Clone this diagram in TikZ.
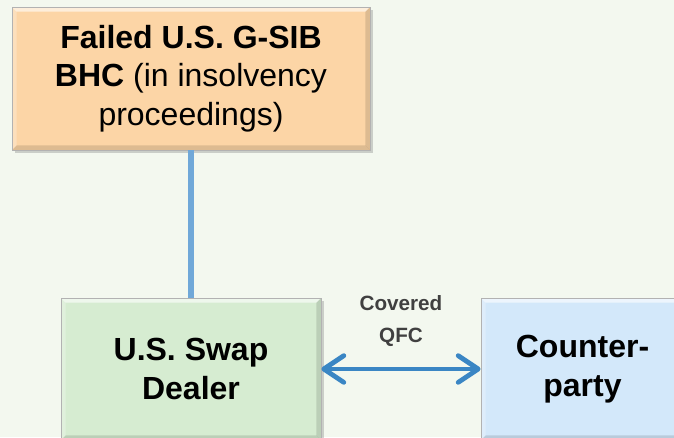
\documentclass[tikz,border=0pt]{standalone}
\usepackage{fontspec}
\setmainfont{Liberation Sans}
\usetikzlibrary{arrows.meta,shadows}
\definecolor{bgcol}{HTML}{F3F8EF}
\definecolor{bhcfill}{HTML}{FCD5A6}
\definecolor{dealerfill}{HTML}{D6ECD1}
\definecolor{partyfill}{HTML}{D3E8FA}
\definecolor{linkcol}{HTML}{70A8D8}
\definecolor{arrowcol}{HTML}{3A86C4}
\definecolor{labelgray}{HTML}{404040}
\begin{document}
\begin{tikzpicture}[x=0.75pt,y=-0.75pt,
    box/.style={draw=black!30, line width=0.6pt, align=center, inner sep=0pt,
      font=\fontsize{24}{29}\selectfont,
      drop shadow={shadow xshift=2pt, shadow yshift=-2pt, opacity=0.35},
      path picture={
        \coordinate (nw) at (path picture bounding box.north west);
        \coordinate (ne) at (path picture bounding box.north east);
        \coordinate (sw) at (path picture bounding box.south west);
        \coordinate (se) at (path picture bounding box.south east);
        \fill[white, opacity=0.6] (nw) -- (ne) -- ([shift={(-3.5pt,-3.5pt)}]ne) -- ([shift={(3.5pt,-3.5pt)}]nw) -- cycle;
        \fill[white, opacity=0.25] (nw) -- (sw) -- ([shift={(3.5pt,3.5pt)}]sw) -- ([shift={(3.5pt,-3.5pt)}]nw) -- cycle;
        \fill[black, opacity=0.12] (sw) -- (se) -- ([shift={(-3.5pt,3.5pt)}]se) -- ([shift={(3.5pt,3.5pt)}]sw) -- cycle;
        \fill[black, opacity=0.12] (ne) -- (se) -- ([shift={(-3.5pt,3.5pt)}]se) -- ([shift={(-3.5pt,-3.5pt)}]ne) -- cycle;
      }},
    link/.style={linkcol, line width=4.5pt},
    qfcarrow/.style={arrowcol, line width=3pt,
      {Straight Barb[length=15pt,width=20pt,line width=3.6pt,round]}-{Straight Barb[length=15pt,width=20pt,line width=3.6pt,round]}},
    qfclabel/.style={inner sep=0pt, align=center, text=labelgray,
      font=\bfseries\fontsize{15.5}{24}\selectfont}]
  \fill[bgcol] (0,0) rectangle (674,437);
  \clip (0,0) rectangle (674,437);
  % boxes
  \node[box, fill=bhcfill, minimum width=268.5pt, minimum height=107.25pt] (bhc) at (191,78.5)
    {\textbf{Failed U.S. G-SIB}\\\textbf{BHC} (in insolvency\\proceedings)};
  \node[box, fill=dealerfill, minimum width=195pt, minimum height=106.5pt] (dealer) at (191,369)
    {\textbf{U.S. Swap}\\\textbf{Dealer}};
  \node[box, fill=partyfill, minimum width=152.25pt, minimum height=106.5pt] (party) at (582.5,369)
    {\textbf{Counter-}\\\textbf{party}};
  % connectors
  \draw[link] (bhc.south) -- (dealer.north);
  \draw[qfcarrow] (dealer.east) -- (party.west)
    node[midway, above=15.5pt, qfclabel] (qfc) {Covered\\QFC};
\end{tikzpicture}
\end{document}
